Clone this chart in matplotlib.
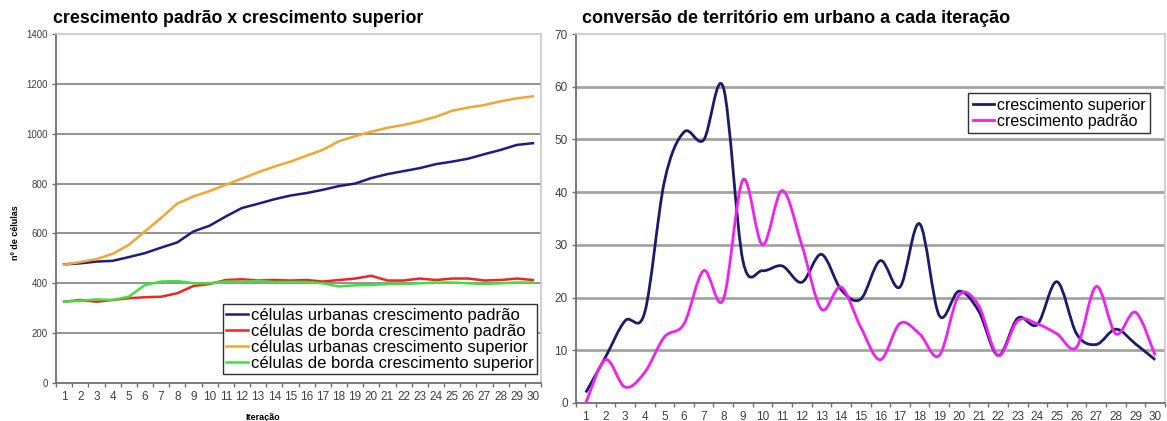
import matplotlib
matplotlib.use("Agg")
import matplotlib.pyplot as plt
from matplotlib.path import Path
from matplotlib.patches import PathPatch
from matplotlib.lines import Line2D

plt.rcParams["font.family"] = ["Liberation Sans", "DejaVu Sans"]

iteracoes = list(range(1, 31))

# painel esquerdo: contagem de células
urbanas_padrao = [476, 480, 487, 490, 505, 521, 543, 564, 608, 631,
                  668, 702, 719, 737, 752, 762, 775, 790, 800, 822,
                  838, 850, 862, 878, 888, 900, 918, 935, 955, 962]
borda_padrao = [326, 333, 326, 333, 340, 344, 346, 360, 389, 397,
                413, 416, 411, 413, 411, 413, 407, 413, 419, 430,
                411, 411, 419, 413, 419, 419, 411, 413, 419, 413]
urbanas_superior = [475, 485, 497, 518, 554, 608, 662, 720, 748, 770,
                    795, 820, 845, 868, 888, 912, 935, 970, 990, 1008,
                    1024, 1035, 1050, 1068, 1092, 1105, 1115, 1130, 1142, 1150]
borda_superior = [326, 330, 335, 333, 346, 393, 407, 409, 400, 400,
                  407, 407, 409, 405, 405, 405, 400, 387, 392, 393,
                  397, 397, 400, 403, 403, 400, 397, 400, 403, 403]

# painel direito: conversão por iteração
conv_superior = [2, 8.7, 15.6, 17.2, 42, 51.4, 49.9, 59.9, 27, 25.1,
                 26, 22.9, 28.2, 21.5, 19.7, 27, 22, 34, 16.6, 21.2,
                 17.5, 9, 16.1, 14.9, 23, 13.1, 11.1, 14, 11.2, 8.2]
conv_padrao = [0, 8.2, 3, 5.8, 12.5, 15, 25.1, 19.6, 42.3, 30,
               40.3, 30, 17.8, 22, 14.4, 8.2, 15.1, 13.1, 9, 20.4,
               18.5, 9, 15.6, 15, 13.1, 10.6, 22.1, 13.1, 17.2, 9]

series_esq = [
    ("células urbanas crescimento padrão", urbanas_padrao, "#1c1c84"),
    ("células de borda crescimento padrão", borda_padrao, "#f42222"),
    ("células urbanas crescimento superior", urbanas_superior, "#f5a630"),
    ("células de borda crescimento superior", borda_superior, "#3ee23e"),
]
series_dir = [
    ("crescimento superior", conv_superior, "#1b1b6e"),
    ("crescimento padrão", conv_padrao, "#f21ff2"),
]


def smooth_path(xs, ys):
    """Curva suave (Bezier cúbica tipo Catmull-Rom) passando pelos pontos."""
    pts = list(zip(xs, ys))
    n = len(pts)
    verts = [pts[0]]
    codes = [Path.MOVETO]
    for i in range(n - 1):
        p0 = pts[i - 1] if i > 0 else pts[i]
        p1 = pts[i]
        p2 = pts[i + 1]
        p3 = pts[i + 2] if i + 2 < n else pts[i + 1]
        c1 = (p1[0] + (p2[0] - p0[0]) / 6, p1[1] + (p2[1] - p0[1]) / 6)
        c2 = (p2[0] - (p3[0] - p1[0]) / 6, p2[1] - (p3[1] - p1[1]) / 6)
        verts += [c1, c2, p2]
        codes += [Path.CURVE4] * 3
    return Path(verts, codes)


def style_category_axis(ax):
    ax.set_xlim(0.5, 30.5)
    ax.set_xticks(iteracoes)
    ax.set_xticks([i + 0.5 for i in range(0, 31)], minor=True)
    ax.tick_params(axis="x", which="major", length=0, pad=6)
    ax.tick_params(axis="x", which="minor", length=3, color="#707070", width=1)
    ax.tick_params(axis="y", length=3, color="#707070", width=1, pad=3)
    for side in ("left", "bottom"):
        ax.spines[side].set_color("#707070")
        ax.spines[side].set_linewidth(1.3)
    for side in ("top", "right"):
        ax.spines[side].set_color("#c8c8c8")
        ax.spines[side].set_linewidth(1.2)
    for lbl in ax.get_xticklabels() + ax.get_yticklabels():
        lbl.set_color("#404040")


fig = plt.figure(figsize=(11.67, 4.21), dpi=100)

# painel esquerdo
ax1 = fig.add_axes([0.048, 0.0903, 0.4156, 0.8289])
ax1.set_ylim(0, 1400)
ax1.set_yticks(range(0, 1401, 200))
for v in range(200, 1400, 200):
    ax1.axhline(v, color="#8a8a8a", lw=1.3, zorder=0)
for nome, vals, cor in series_esq:
    ax1.plot(iteracoes, vals, color=cor, lw=1.8, label=nome)
style_category_axis(ax1)
ax1.tick_params(axis="x", labelsize=8.5)
ax1.tick_params(axis="y", labelsize=7)
ax1.set_xlabel("Iteração", fontsize=6.5, fontweight="bold")
ax1.xaxis.set_label_coords(0.427, -0.085)
ax1.set_ylabel("nº de células", fontsize=6.5, fontweight="bold")
ax1.yaxis.set_label_coords(-0.075, 0.43)
leg1 = ax1.legend(loc="lower right", bbox_to_anchor=(0.992, 0.026), fontsize=12,
                  handlelength=1.3, handletextpad=0.2, labelspacing=0.06,
                  borderpad=0.2, borderaxespad=0, fancybox=False, framealpha=1,
                  edgecolor="#303030")
leg1.get_frame().set_linewidth(1.0)
fig.text(0.045, 0.957, "crescimento padrão x crescimento superior",
         fontsize=12.8, fontweight="bold", ha="left", va="center")

# painel direito
ax2 = fig.add_axes([0.4936, 0.0428, 0.5047, 0.8764])
ax2.set_ylim(0, 70)
ax2.set_yticks(range(0, 71, 10))
for v in range(10, 70, 10):
    ax2.axhline(v, color="#a4a4a4", lw=2.0, zorder=0)
handles = []
for nome, vals, cor in series_dir:
    ax2.add_patch(PathPatch(smooth_path(iteracoes, vals), facecolor="none",
                            edgecolor=cor, lw=2.0, zorder=3))
    handles.append(Line2D([], [], color=cor, lw=2.0, label=nome))
style_category_axis(ax2)
ax2.tick_params(axis="x", labelsize=8.5)
ax2.tick_params(axis="y", labelsize=8.5)
leg2 = ax2.legend(handles=handles, loc="upper right",
                  bbox_to_anchor=(0.975, 0.84), fontsize=11.5,
                  handlelength=1.3, handletextpad=0.2, labelspacing=0.05,
                  borderpad=0.3, borderaxespad=0, fancybox=False, framealpha=1,
                  edgecolor="#303030")
leg2.get_frame().set_linewidth(1.0)
fig.text(0.499, 0.957, "conversão de território em urbano a cada iteração",
         fontsize=13, fontweight="bold", ha="left", va="center")

fig.savefig("out.png", dpi=100)
